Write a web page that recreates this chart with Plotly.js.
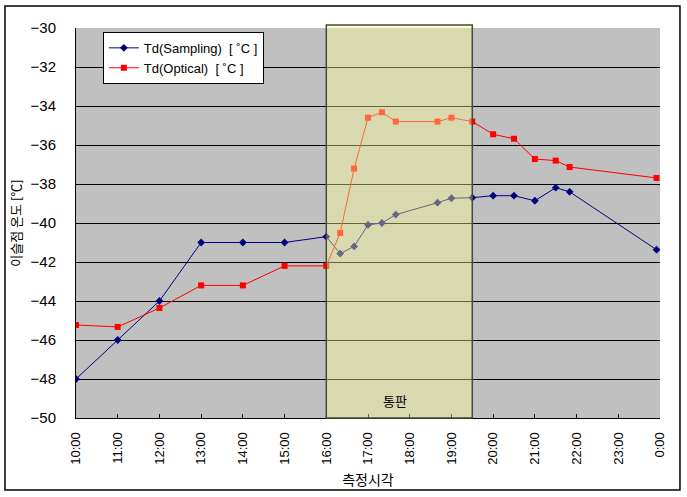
<!DOCTYPE html>
<html>
<head>
<meta charset="utf-8">
<script src="https://cdn.plot.ly/plotly-3.0.1.min.js"></script>
<style>html,body{margin:0;padding:0;background:#fff;}#chart{width:687px;height:497px;}</style>
</head>
<body>
<div id="chart"></div>
<script>
// ---- data ----
var tickLabels = ["10:00","11:00","12:00","13:00","14:00","15:00","16:00","17:00","18:00","19:00","20:00","21:00","22:00","23:00","0:00"];
var samplingTimes = ["10:00","11:00","12:00","13:00","14:00","15:00","16:00","16:20","16:40","17:00","17:20","17:40","18:40","19:00","19:30","20:00","20:30","21:00","21:30","21:50","23:55"];
var samplingValues = [-48,-46,-44,-41,-41,-41,-40.7,-41.57,-41.2,-40.1,-40.0,-39.57,-38.96,-38.73,-38.7,-38.6,-38.6,-38.86,-38.19,-38.4,-41.37];
var opticalTimes = ["10:00","11:00","12:00","13:00","14:00","15:00","16:00","16:20","16:40","17:00","17:20","17:40","18:40","19:00","19:30","20:00","20:30","21:00","21:30","21:50","23:55"];
var opticalValues = [-45.23,-45.33,-44.36,-43.2,-43.2,-42.2,-42.2,-40.51,-37.21,-34.6,-34.32,-34.8,-34.8,-34.6,-34.8,-35.45,-35.68,-36.72,-36.8,-37.13,-37.69];
var periodStart = "16:00", periodEnd = "19:30", periodLabel = "통판";
var seriesNames = ["Td(Sampling)  [ ˚C ]", "Td(Optical)  [ ˚C ]"];

function toHours(s){
  var p = s.split(":"); var h = +p[0] + (+p[1])/60;
  return h < 10 ? h + 24 : h;
}
var tickVals = tickLabels.map(toHours);

var FONT = "Liberation Sans, Arial, Noto Sans CJK KR, sans-serif";

var traces = [
  {x: samplingTimes.map(toHours), y: samplingValues, name: seriesNames[0], type: "scatter", mode: "lines+markers",
   line: {color: "#000080", width: 1}, marker: {symbol: "diamond", size: 6, color: "#000080"}},
  {x: opticalTimes.map(toHours), y: opticalValues, name: seriesNames[1], type: "scatter", mode: "lines+markers",
   line: {color: "#ff0000", width: 1}, marker: {symbol: "square", size: 6, color: "#ff0000"}}
];

var layout = {
  width: 687, height: 497,
  margin: {l: 76, r: 27, t: 28, b: 79},
  paper_bgcolor: "#ffffff", plot_bgcolor: "#c0c0c0",
  font: {family: FONT, size: 13, color: "#000"},
  showlegend: true,
  legend: {x: 0.046, y: 0.99, xanchor: "left", yanchor: "top", bgcolor: "#ffffff", bordercolor: "#000", borderwidth: 1,
           font: {size: 13, family: FONT, color: "#000"}, tracegroupgap: 0},
  xaxis: {range: [10, 24], tickvals: tickVals, ticktext: tickLabels, tickangle: -90, ticks: "inside", ticklen: 4,
          tickcolor: "#000", showgrid: false, zeroline: false, showline: true, linecolor: "#000", linewidth: 1,
          ticklabelstandoff: 8, tickfont: {size: 13, color: "#000"},
          title: {text: "측정시각", font: {size: 14, family: "Noto Sans CJK KR", color: "#000"}, standoff: 11}},
  yaxis: {range: [-50, -30], dtick: 2, showgrid: true, gridcolor: "#000", gridwidth: 1, zeroline: false,
          showline: true, linecolor: "#000", ticks: "", ticklabelstandoff: 16, tickfont: {size: 15, color: "#000"},
          title: {text: "이슬점 온도 [℃]", font: {size: 13, family: "Noto Sans CJK KR", color: "#000"}, standoff: 5}},
  shapes: [
    {type: "rect", layer: "above", xref: "x", yref: "paper", x0: toHours(periodStart), x1: toHours(periodEnd), y0: 0, y1: 1.008,
     fillcolor: "rgb(255,255,150)", opacity: 0.4, line: {width: 0}},
    {type: "rect", layer: "above", xref: "x", yref: "paper", x0: toHours(periodStart), x1: toHours(periodEnd), y0: 0, y1: 1.008,
     fillcolor: "rgba(0,0,0,0)", line: {color: "#4a4a38", width: 1.5}},
    {type: "rect", layer: "below", xref: "paper", yref: "paper", x0: -0.1216, x1: 1.0342, y0: -0.1846, y1: 1.0564,
     fillcolor: "rgba(0,0,0,0)", line: {color: "#000", width: 1.5}}
  ],
  annotations: [
    {x: 17.65, y: -49.08, xref: "x", yref: "y", text: periodLabel, showarrow: false,
     font: {size: 13, family: "Noto Sans CJK KR", color: "#000"}}
  ]
};

Plotly.newPlot("chart", traces, layout, {staticPlot: true, displayModeBar: false});
</script>
</body>
</html>
